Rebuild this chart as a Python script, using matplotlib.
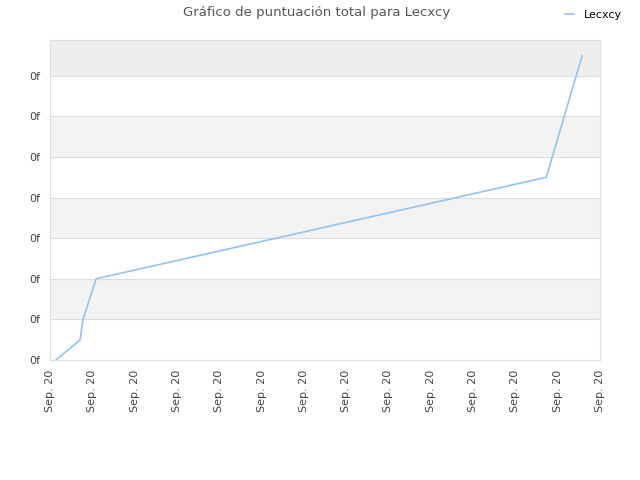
import numpy as np
import matplotlib
matplotlib.use('Agg')
import matplotlib.pyplot as plt

# Data
x_pos = [0.14, 0.71, 0.78, 1.09, 11.73, 12.58]
score = [0.0, 0.49, 1.0, 2.0, 4.5, 7.5]
n_ticks = 14
x_labels = ['Sep. 20'] * n_ticks
y_ticks = list(range(8))
y_labels = ['0f'] * len(y_ticks)

plt.rc('font', family='DejaVu Sans', size=8)

fig = plt.figure(figsize=[6.4, 4.8], dpi=100)
ax = fig.add_axes([50 / 640, 1 - 360 / 480, 550 / 640, 320 / 480])

ymax = 7.88
ax.set_xlim(0, n_ticks - 1)
ax.set_ylim(0, ymax)

# alternating bands
for i in range(len(y_ticks)):
    lo = y_ticks[i]
    hi = y_ticks[i + 1] if i + 1 < len(y_ticks) else ymax
    if i == len(y_ticks) - 1:
        col = '#eeeeee'
    elif i % 2 == 1:
        col = '#f3f3f3'
    else:
        col = 'white'
    ax.axhspan(lo, hi, color=col, zorder=0, lw=0)
for t in y_ticks[1:]:
    ax.axhline(t, color='#dddddd', lw=0.8, zorder=1)

ax.plot(x_pos, score, color='#92c3f5', lw=1.2, label='Lecxcy', zorder=3)

ax.set_xticks(range(n_ticks))
ax.set_xticklabels(x_labels, rotation=90, color='#444444')
ax.set_yticks(y_ticks)
ax.set_yticklabels(y_labels, color='#444444')
ax.tick_params(length=0, pad=7)
for s in ax.spines.values():
    s.set_color('#dddddd')

fig.text(0.495, 0.973, 'Gráfico de puntuación total para Lecxcy',
         ha='center', va='center', fontsize=9.5, color='#555555')
fig.legend(loc='upper right', bbox_to_anchor=(0.988, 1.0), frameon=False,
           fontsize=8, handlelength=0.8, handletextpad=0.9)

plt.savefig('out.png', dpi=100)
